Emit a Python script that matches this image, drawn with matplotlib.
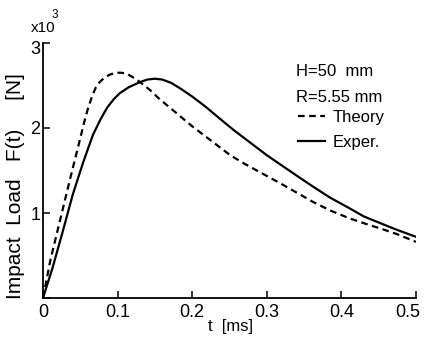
import matplotlib
matplotlib.use("Agg")
import matplotlib.pyplot as plt
from matplotlib.transforms import ScaledTranslation

# ---- data (time in ms, load in 10^3 N) ----
theory_t = [0.0, 0.010, 0.023, 0.036, 0.046, 0.055, 0.060, 0.066, 0.071, 0.076,
            0.082, 0.090, 0.098, 0.105, 0.112, 0.120, 0.130, 0.143, 0.155, 0.170,
            0.185, 0.200, 0.215, 0.230, 0.251, 0.270, 0.295, 0.320, 0.340, 0.362,
            0.385, 0.410, 0.430, 0.455, 0.475, 0.500]
theory_f = [0.0, 0.45, 0.92, 1.39, 1.74, 2.06, 2.22, 2.38, 2.48, 2.54,
            2.59, 2.63, 2.65, 2.65, 2.64, 2.60, 2.54, 2.45, 2.35, 2.24,
            2.13, 2.02, 1.92, 1.82, 1.68, 1.58, 1.46, 1.34, 1.24, 1.13,
            1.03, 0.94, 0.88, 0.81, 0.75, 0.66]

exper_t = [0.0, 0.013, 0.027, 0.040, 0.054, 0.067, 0.077, 0.086, 0.095, 0.103,
           0.115, 0.130, 0.140, 0.150, 0.160, 0.172, 0.185, 0.200, 0.218, 0.237,
           0.255, 0.270, 0.285, 0.300, 0.320, 0.340, 0.362, 0.385, 0.410, 0.430,
           0.455, 0.475, 0.500]
exper_f = [0.0, 0.36, 0.80, 1.22, 1.60, 1.92, 2.10, 2.24, 2.34, 2.41,
           2.48, 2.54, 2.57, 2.58, 2.57, 2.53, 2.46, 2.37, 2.25, 2.11,
           1.98, 1.88, 1.78, 1.68, 1.56, 1.44, 1.31, 1.18, 1.06, 0.96,
           0.87, 0.80, 0.72]

x_ticks = [0.0, 0.1, 0.2, 0.3, 0.4, 0.5]
x_ticklabels = ["0", "0.1", "0.2", "0.3", "0.4", "0.5"]
y_ticks = [0, 1, 2, 3]
y_ticklabels = ["", "1", "2", "3"]

plt.rcParams["font.family"] = ["Liberation Sans", "DejaVu Sans"]

fig = plt.figure(figsize=(4.24, 3.37), dpi=100)
ax = fig.add_axes([43/424, 1 - 298/337, (416 - 43)/424, (298 - 43)/337])

ax.plot(theory_t, theory_f, color="black", lw=1.6, linestyle=(0, (3, 2)), label="Theory")
ax.plot(exper_t, exper_f, color="black", lw=1.6, label="Exper.")

ax.set_xlim(0, 0.5)
ax.set_ylim(0, 3)
for s in ["top", "right"]:
    ax.spines[s].set_visible(False)
ax.spines["left"].set_linewidth(1.3)
ax.spines["bottom"].set_linewidth(1.3)
ax.set_xticks(x_ticks)
ax.set_xticklabels(x_ticklabels)
ax.set_yticks(y_ticks)
ax.set_yticklabels(y_ticklabels)
ax.tick_params(direction="in", length=5, width=1.1, labelsize=13)
ax.tick_params(axis="x", pad=4)
ax.tick_params(axis="y", pad=2)
last = ax.get_xticklabels()[-1]
last.set_horizontalalignment("right")
last.set_transform(last.get_transform() + ScaledTranslation(4/100, 0, fig.dpi_scale_trans))
top = ax.get_yticklabels()[-1]
top.set_transform(top.get_transform() + ScaledTranslation(0, -4/100, fig.dpi_scale_trans))

fig.text(16/424, 1 - 186/337, "Impact  Load   F(t)     [N]", rotation=90,
         ha="center", va="center", fontsize=15)
fig.text(31/424, 1 - 28/337, "x10", ha="left", va="center", fontsize=11)
fig.text(52/424, 1 - 15/337, "3", ha="left", va="center", fontsize=8.5)
fig.text(230/424, 1 - 327/337, "t  [ms]", ha="center", va="center", fontsize=12)

fig.text(296/424, 1 - 72/337, "H=50  mm", ha="left", va="center", fontsize=12)
fig.text(296/424, 1 - 97/337, "R=5.55 mm", ha="left", va="center", fontsize=12)
ax.legend(loc="upper left", bbox_to_anchor=(298/424, 1 - 110/337),
          bbox_transform=fig.transFigure, frameon=False, fontsize=12,
          handlelength=1.6, handletextpad=0.5, labelspacing=0.6,
          borderpad=0.0, borderaxespad=0.0)

fig.savefig("out.png", dpi=100)
